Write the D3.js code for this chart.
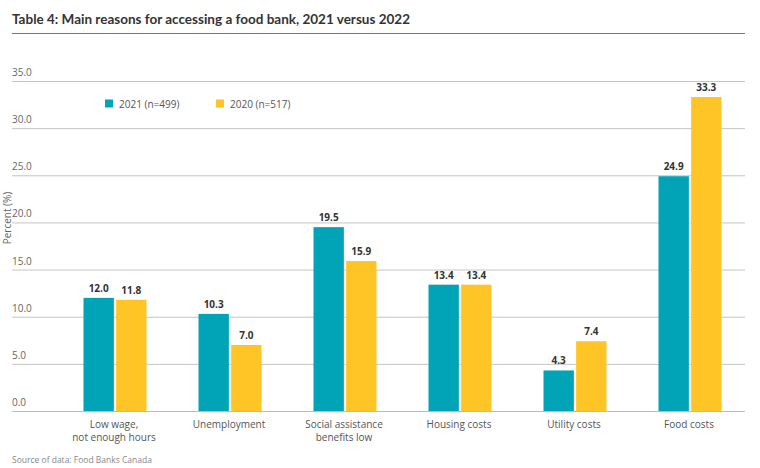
<!DOCTYPE html>
<html><head><meta charset="utf-8">
<script src="https://cdn.jsdelivr.net/npm/d3@7"></script>
<style>body{margin:0;background:#fff;} svg{display:block;font-family:"Open Sans","Noto Sans",sans-serif;}</style>
</head><body>
<svg id="c" width="760" height="468"></svg>
<script>
const categories = [["Low wage,","not enough hours"],["Unemployment"],["Social assistance","benefits low"],["Housing costs"],["Utility costs"],["Food costs"]];
const series2021 = [12.0, 10.3, 19.5, 13.4, 4.3, 24.9];
const series2020 = [11.8, 7.0, 15.9, 13.4, 7.4, 33.3];
const seriesNames = ["2021 (n=499)", "2020 (n=517)"];
const yTicks = [0, 5, 10, 15, 20, 25, 30, 35];
const colors = ["#00A4B6", "#FFC425"];

const svg = d3.select("#c");
const plotL = 12, plotR = 745, plotT = 81, plotB = 411;
const y = d3.scaleLinear().domain([0, 35]).range([plotB, plotT]);
const x0 = d3.scaleBand().domain(d3.range(categories.length)).range([56.5, 746.5]);
const x1 = d3.scaleBand().domain([0, 1]).range([27, 90]).paddingInner(0.07);

// title
const title = svg.append("text").attr("x", 12).attr("y", 24).attr("font-size", 14).attr("font-weight", 700)
  .attr("font-family", "Lato, 'Open Sans', sans-serif")
  .attr("fill", "#333").text("Table 4: Main reasons for accessing a food bank, 2021 versus 2022");
const tw = title.node().getComputedTextLength();
if (tw > 400) title.attr("textLength", 398).attr("lengthAdjust", "spacingAndGlyphs");
svg.append("line").attr("x1", 12).attr("x2", 745).attr("y1", 33.5).attr("y2", 33.5).attr("stroke", "#777").attr("stroke-width", 1.2);

// grid
const g = svg.append("g");
yTicks.forEach(t => {
  g.append("line").attr("x1", plotL).attr("x2", plotR).attr("y1", y(t) + 0.5).attr("y2", y(t) + 0.5)
    .attr("stroke", t === 0 ? "#bbb" : "#c4c4c4").attr("stroke-width", 1);
  g.append("text").attr("x", 12).attr("y", y(t) - 5).attr("font-size", 10).attr("fill", "#666").text(t.toFixed(1));
});

// y title
svg.append("text").attr("transform", `translate(10.5,${218}) rotate(-90)`).attr("text-anchor", "middle")
  .attr("font-size", 10).attr("fill", "#666").text("Percent (%)");

// bars
const data = [series2021, series2020];
data.forEach((s, si) => {
  const gs = svg.append("g");
  gs.selectAll("rect").data(s).join("rect")
    .attr("x", (d, i) => x0(i) + x1(si))
    .attr("width", x1.bandwidth())
    .attr("y", d => y(d))
    .attr("height", d => plotB - y(d))
    .attr("fill", colors[si]);
  gs.selectAll("text").data(s).join("text")
    .attr("x", (d, i) => x0(i) + x1(si) + x1.bandwidth() / 2)
    .attr("y", d => y(d) - 6)
    .attr("text-anchor", "middle").attr("font-size", 10).attr("font-weight", 700).attr("fill", "#333")
    .text(d => d.toFixed(1));
});

// x labels
categories.forEach((lines, i) => {
  const t = svg.append("text").attr("text-anchor", "middle").attr("font-size", 10).attr("fill", "#555");
  lines.forEach((l, j) => t.append("tspan").attr("x", x0(i) + x0.bandwidth() / 2).attr("y", 428 + j * 13).text(l));
});

// legend
const legX = [105, 216];
seriesNames.forEach((n, i) => {
  svg.append("rect").attr("x", legX[i]).attr("y", 99.5).attr("width", 8).attr("height", 8).attr("fill", colors[i]);
  svg.append("text").attr("x", legX[i] + 14).attr("y", 107.5).attr("font-size", 10).attr("fill", "#555").text(n);
});

// source
svg.append("text").attr("x", 12).attr("y", 463).attr("font-size", 8.5).attr("fill", "#888").text("Source of data: Food Banks Canada");
</script>
</body></html>
